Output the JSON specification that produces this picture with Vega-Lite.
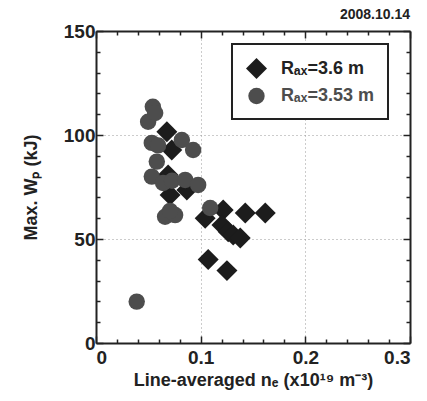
{
  "$schema": "https://vega.github.io/schema/vega-lite/v6.json",
  "width": 314,
  "height": 312,
  "autosize": {"type": "none"},
  "padding": {"left": 96, "top": 31, "right": 17, "bottom": 58},
  "background": "white",
  "title": {"text": "2008.10.14", "anchor": "end", "frame": "group", "font": "Liberation Sans", "fontSize": 14, "fontWeight": "bold", "color": "#222", "offset": 0},
  "data": {"values": [
    {"n": 0.0677, "w": 101.6, "s": "Rₐₓ=3.6 m"},
    {"n": 0.0724, "w": 92.8, "s": "Rₐₓ=3.6 m"},
    {"n": 0.0689, "w": 80.8, "s": "Rₐₓ=3.6 m"},
    {"n": 0.0708, "w": 71.2, "s": "Rₐₓ=3.6 m"},
    {"n": 0.0868, "w": 73.6, "s": "Rₐₓ=3.6 m"},
    {"n": 0.1043, "w": 60.0, "s": "Rₐₓ=3.6 m"},
    {"n": 0.1215, "w": 63.9, "s": "Rₐₓ=3.6 m"},
    {"n": 0.1426, "w": 62.5, "s": "Rₐₓ=3.6 m"},
    {"n": 0.1617, "w": 62.5, "s": "Rₐₓ=3.6 m"},
    {"n": 0.1203, "w": 56.7, "s": "Rₐₓ=3.6 m"},
    {"n": 0.1263, "w": 53.5, "s": "Rₐₓ=3.6 m"},
    {"n": 0.1311, "w": 51.9, "s": "Rₐₓ=3.6 m"},
    {"n": 0.1378, "w": 50.5, "s": "Rₐₓ=3.6 m"},
    {"n": 0.1072, "w": 40.1, "s": "Rₐₓ=3.6 m"},
    {"n": 0.1251, "w": 34.8, "s": "Rₐₓ=3.6 m"},
    {"n": 0.0543, "w": 113.6, "s": "Rₐₓ=3.53 m"},
    {"n": 0.0498, "w": 106.4, "s": "Rₐₓ=3.53 m"},
    {"n": 0.0565, "w": 110.6, "s": "Rₐₓ=3.53 m"},
    {"n": 0.0533, "w": 96.2, "s": "Rₐₓ=3.53 m"},
    {"n": 0.0593, "w": 95.0, "s": "Rₐₓ=3.53 m"},
    {"n": 0.082, "w": 97.6, "s": "Rₐₓ=3.53 m"},
    {"n": 0.0928, "w": 92.8, "s": "Rₐₓ=3.53 m"},
    {"n": 0.0581, "w": 87.2, "s": "Rₐₓ=3.53 m"},
    {"n": 0.0533, "w": 80.0, "s": "Rₐₓ=3.53 m"},
    {"n": 0.0641, "w": 76.9, "s": "Rₐₓ=3.53 m"},
    {"n": 0.0727, "w": 78.0, "s": "Rₐₓ=3.53 m"},
    {"n": 0.0852, "w": 78.4, "s": "Rₐₓ=3.53 m"},
    {"n": 0.0976, "w": 76.0, "s": "Rₐₓ=3.53 m"},
    {"n": 0.066, "w": 60.7, "s": "Rₐₓ=3.53 m"},
    {"n": 0.0756, "w": 61.5, "s": "Rₐₓ=3.53 m"},
    {"n": 0.0708, "w": 63.5, "s": "Rₐₓ=3.53 m"},
    {"n": 0.1091, "w": 64.9, "s": "Rₐₓ=3.53 m"},
    {"n": 0.0389, "w": 19.9, "s": "Rₐₓ=3.53 m"}
  ]},
  "layer": [
    {
      "mark": {"type": "point", "filled": true, "opacity": 1, "strokeWidth": 0},
      "encoding": {
        "x": {"field": "n", "type": "quantitative", "scale": {"domain": [0, 0.3], "nice": false},
          "title": "Line-averaged nₑ (x10¹⁹ m⁻³)",
          "axis": {"orient": "bottom", "values": [0,0.02,0.04,0.06,0.08,0.1,0.12,0.14,0.16,0.18,0.2,0.22,0.24,0.26,0.28,0.3],
            "format": ".1~f",
            "labelExpr": "indexof([0,0.1,0.2,0.3], datum.value) >= 0 ? datum.label : ''",
            "tickSize": {"condition": {"test": "indexof([0,0.1,0.2,0.3], datum.value) >= 0", "value": -7}, "value": -4},
            "grid": true,
            "gridColor": {"condition": {"test": "datum.value == 0.1 || datum.value == 0.2", "value": "#999"}, "value": "transparent"},
            "labelPadding": 12, "titlePadding": 4}},
        "y": {"field": "w", "type": "quantitative", "scale": {"domain": [0, 150], "nice": false},
          "title": "Max. Wₚ (kJ)",
          "axis": {"orient": "left", "values": [0,10,20,30,40,50,60,70,80,90,100,110,120,130,140,150],
            "labelExpr": "datum.value % 50 == 0 ? datum.label : ''",
            "tickSize": {"condition": {"test": "datum.value % 50 == 0", "value": -7}, "value": -4},
            "grid": true,
            "gridColor": {"condition": {"test": "datum.value == 50 || datum.value == 100", "value": "#999"}, "value": "transparent"},
            "labelPadding": 8, "titlePadding": 23}},
        "shape": {"field": "s", "type": "nominal", "scale": {"domain": ["Rₐₓ=3.6 m", "Rₐₓ=3.53 m"], "range": ["diamond", "circle"]}, "title": null},
        "color": {"field": "s", "type": "nominal", "scale": {"domain": ["Rₐₓ=3.6 m", "Rₐₓ=3.53 m"], "range": ["#1c1c1c", "#4d4d4d"]}, "title": null},
        "size": {"field": "s", "type": "nominal", "scale": {"domain": ["Rₐₓ=3.6 m", "Rₐₓ=3.53 m"], "range": [440, 270]}, "title": null}
      }
    },
    {
      "mark": {"type": "point", "opacity": 0},
      "encoding": {
        "x": {"field": "n", "type": "quantitative", "scale": {"domain": [0, 0.3], "nice": false}, "title": null,
          "axis": {"orient": "top", "values": [0,0.02,0.04,0.06,0.08,0.1,0.12,0.14,0.16,0.18,0.2,0.22,0.24,0.26,0.28,0.3], "labels": false, "grid": false,
            "tickSize": {"condition": {"test": "indexof([0,0.1,0.2,0.3], datum.value) >= 0", "value": -7}, "value": -4}}},
        "y": {"field": "w", "type": "quantitative", "scale": {"domain": [0, 150], "nice": false}, "title": null,
          "axis": {"orient": "right", "values": [0,10,20,30,40,50,60,70,80,90,100,110,120,130,140,150], "labels": false, "grid": false,
            "tickSize": {"condition": {"test": "datum.value % 50 == 0", "value": -7}, "value": -4}}}
      }
    }
  ],
  "resolve": {"axis": {"x": "independent", "y": "independent"}},
  "config": {
    "view": {"stroke": null},
    "axis": {
      "domainColor": "#222", "domainWidth": 2, "tickColor": "#222", "tickWidth": 1.5,
      "labelFont": "Liberation Sans", "labelFontSize": 19, "labelFontWeight": "bold", "labelColor": "#222",
      "titleFont": "Liberation Sans", "titleFontSize": 18, "titleFontWeight": "bold", "titleColor": "#222",
      "gridDash": [1, 3], "gridWidth": 1
    },
    "legend": {
      "orient": "none", "legendX": 136, "legendY": 13,
      "strokeColor": "#222", "strokeWidth": 2, "padding": 14, "fillColor": "white",
      "labelFont": "Liberation Sans", "labelFontSize": 18, "labelFontWeight": "bold",
      "labelColor": {"expr": "datum.index == 1 ? '#4d4d4d' : '#222'"},
      "rowPadding": 8, "labelOffset": 14, "symbolStrokeWidth": 0, "symbolOpacity": 1
    }
  }
}
